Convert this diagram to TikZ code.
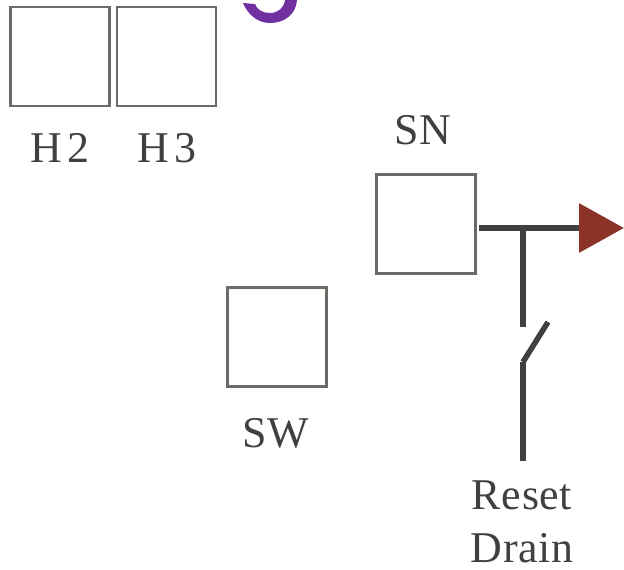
\documentclass[tikz,border=0pt]{standalone}
\usepackage{fontspec}
\setmainfont[LetterSpace=1.5]{Liberation Serif}
\usetikzlibrary{arrows.meta}
\definecolor{boxgray}{HTML}{6B6B66}
\definecolor{wiregray}{HTML}{404040}
\definecolor{tipred}{HTML}{8B3229}
\definecolor{glyphpurple}{HTML}{7030A0}
\tikzstyle{box}=[draw=boxgray,line width=0.055cm,minimum size=1.98cm,inner sep=0pt]
\tikzstyle{label}=[text=wiregray,font=\fontsize{25}{30}\selectfont,align=center,inner sep=0pt]
\tikzstyle{wire}=[draw=wiregray,line width=0.13cm]

\begin{document}
\begin{tikzpicture}[x=0.02cm,y=-0.02cm]
\useasboundingbox (0,0) rectangle (624,569);
% part of a letter, cut by the top edge
\fill[glyphpurple] (243,3) .. controls (248,15) and (258,23) .. (270,23) .. controls (285,23) and (296,14) .. (297,0) -- (285,0) .. controls (284,8) and (278,13) .. (270,13) .. controls (263,13) and (257,10) .. (255,4) -- cycle;
\node[box] (boxH2) at (60,56.5) {};
\node[box] (boxH3) at (166.5,56.5) {};
\node[box] (boxSN) at (426,224) {};
\node[box] (boxSW) at (277,337) {};
\node[label] (labelH2) at (60,148) {H\kern3pt 2};
\node[label] (labelH3) at (166.5,148) {H\kern3pt 3};
\node[label] (labelSN) at (423,130) {SN};
\node[label] (labelSW) at (276,433) {SW};
\node[label] (labelDrain) at (522,522) {Reset\\Drain};
\coordinate (junction) at (523,228);
\coordinate (tip) at (624,228);
\coordinate (contactA) at (523,327);
\coordinate (contactB) at (523,362);
\coordinate (bladeEnd) at (548,322);
\coordinate (stemEnd) at (523,461);
% output with reset switch
\draw[wire,-{Triangle[length=0.9cm,width=0.96cm,color=tipred]}] (boxSN.east |- tip) ++(2,0) -- (tip);
\draw[wire] (junction) -- (contactA);
\draw[wire] (stemEnd) -- (contactB);
\draw[wire,line width=0.11cm] (contactB) -- (bladeEnd);
\end{tikzpicture}
\end{document}
